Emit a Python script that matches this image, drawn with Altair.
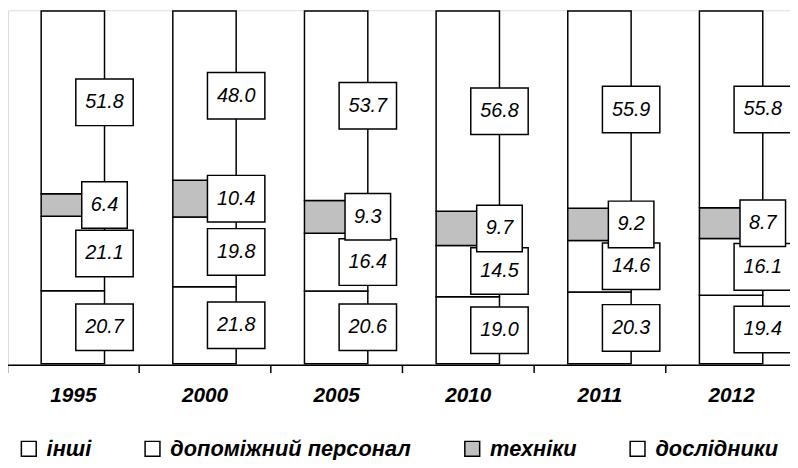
import altair as alt
import pandas as pd

years = ["1995", "2000", "2005", "2010", "2011", "2012"]
series = ["інші", "допоміжний персонал", "техніки", "дослідники"]
inshi = [20.7, 21.8, 20.6, 19.0, 20.3, 19.4]
dopom = [21.1, 19.8, 16.4, 14.5, 14.6, 16.1]
tekhniky = [6.4, 10.4, 9.3, 9.7, 9.2, 8.7]
doslidnyky = [51.8, 48.0, 53.7, 56.8, 55.9, 55.8]
colors = ["white", "white", "#c0c0c0", "white"]

rows = []
for i, yr in enumerate(years):
    for k, (s, vals) in enumerate(zip(series, [inshi, dopom, tekhniky, doslidnyky])):
        lab = f"{vals[i]:.1f}"
        rows.append({"year": yr, "series": s, "idx": k, "value": vals[i],
                     "label": lab, "w": "long" if len(lab) > 3 else "short"})
df = pd.DataFrame(rows)

FONT = "Liberation Sans"
path_long = "M-1.234,-1H1.234V1H-1.234Z"
path_short = "M-0.979,-1H0.979V1H-0.979Z"

xenc = alt.X("year:N", sort=years,
             scale=alt.Scale(range=[-1, 797], paddingInner=0, paddingOuter=0),
             axis=alt.Axis(title=None, labelAngle=0, tickBand="extent",
                           domainColor="black", domainWidth=1.5,
                           tickColor="black", tickWidth=1.5, tickSize=8,
                           labelFont=FONT, labelFontSize=21, labelFontWeight="bold",
                           labelFontStyle="italic", labelColor="black",
                           labelPadding=12, grid=False))
yscale = alt.Scale(domain=[0, 100], range=[357, 0.75], nice=False)

bars = alt.Chart(df).mark_bar(size=64, stroke="black", strokeWidth=1.5).encode(
    x=xenc,
    y=alt.Y("value:Q", stack="zero", scale=yscale, axis=None),
    color=alt.Color("series:N", scale=alt.Scale(domain=series, range=colors),
                    legend=alt.Legend(title=None, orient="none", legendX=10, legendY=432,
                                      direction="horizontal", symbolType="square",
                                      symbolSize=225, symbolStrokeColor="black",
                                      symbolStrokeWidth=1.5, symbolOpacity=1,
                                      labelFont=FONT, labelFontSize=22,
                                      labelFontWeight="bold", labelFontStyle="italic",
                                      labelColor="black", labelLimit=500,
                                      columnPadding=50, labelOffset=7)),
    order=alt.Order("idx:Q", sort="ascending"),
)

base = alt.Chart(df).transform_stack(
    stack="value", groupby=["year"], as_=["y0", "y1"],
    sort=[alt.SortField("idx", order="ascending")]
).transform_calculate(mid="(datum.y0 + datum.y1) / 2")

boxes = base.mark_point(filled=True, fill="white", stroke="black", strokeWidth=1.5,
                        opacity=1, size=2209, xOffset=32).encode(
    x=xenc,
    y=alt.Y("mid:Q", scale=yscale, axis=None),
    shape=alt.Shape("w:N", scale=alt.Scale(domain=["long", "short"],
                                           range=[path_long, path_short]), legend=None),
)

texts = base.mark_text(font=FONT, fontSize=20, fontStyle="italic", color="black",
                       xOffset=32).encode(
    x=xenc,
    y=alt.Y("mid:Q", scale=yscale, axis=None),
    text="label:N",
)

chart = alt.layer(bars, boxes, texts).properties(
    width=790, height=358,
    autosize=alt.AutoSizeParams(type="none"),
    padding={"left": 0, "top": 0, "right": 0, "bottom": 94},
).configure_view(stroke=None).configure(background="white")

chart.save("out.html", embed_options={"renderer": "svg", "actions": False})
